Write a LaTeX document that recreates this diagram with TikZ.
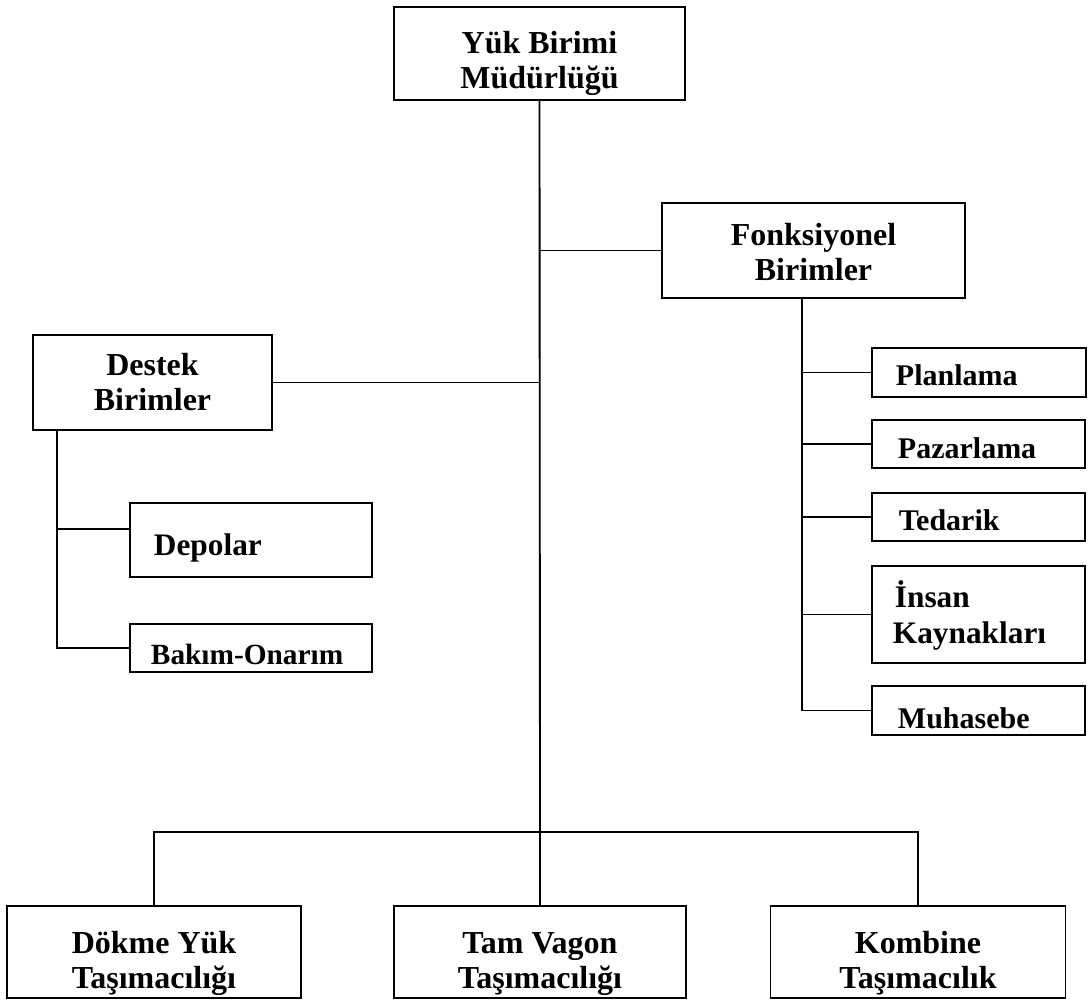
\documentclass[tikz,border=0pt]{standalone}
\usepackage{fontspec}
\setmainfont{Liberation Serif}
\usetikzlibrary{calc}
\newdimen\pxu
\pxu=0.75pt
\begin{document}
\begin{tikzpicture}[x=0.75pt, y=-0.75pt,
  line width=1.4pt,
  box/.style={draw, rectangle, inner sep=0pt, line width=1.4pt},
  link/.style={line width=1.4pt},
  txt/.style={inner sep=0pt, anchor=base, font=\bfseries\fontsize{24}{28}\selectfont},
  stxt/.style={inner sep=0pt, anchor=base west, font=\bfseries\fontsize{22.5}{26}\selectfont}]
\useasboundingbox (0,0) rectangle (1092,1001);

% boxes: centre, width, height (in px)
\node[box, minimum width=291\pxu, minimum height=93\pxu] (mud) at (539.5,53.5) {};
\node[box, minimum width=303\pxu, minimum height=95\pxu] (fonk) at (813.5,250.5) {};
\node[box, minimum width=239\pxu, minimum height=95\pxu] (destek) at (152.5,382.5) {};
\node[box, minimum width=242\pxu, minimum height=74\pxu] (depolar) at (251,540) {};
\node[box, minimum width=242\pxu, minimum height=48\pxu] (bakim) at (251,648) {};
\node[box, minimum width=214\pxu, minimum height=49\pxu] (plan) at (979,372.5) {};
\node[box, minimum width=213\pxu, minimum height=48\pxu] (paz) at (978.5,444) {};
\node[box, minimum width=213\pxu, minimum height=48\pxu] (ted) at (978.5,517) {};
\node[box, minimum width=213\pxu, minimum height=97\pxu] (insan) at (978.5,614.5) {};
\node[box, minimum width=213\pxu, minimum height=49\pxu] (muh) at (978.5,710.5) {};
\node[box, minimum width=294\pxu, minimum height=92\pxu] (dokme) at (154,952) {};
\node[box, minimum width=292\pxu, minimum height=92\pxu] (tam) at (540,952) {};
\node[box, minimum width=295\pxu, minimum height=92\pxu] (kombine) at (918,952) {};

% texts
\node[txt] (mudA) at (mud.center |- 0,53) {Yük Birimi};
\node[txt] (mudB) at (mud.center |- 0,88) {Müdürlüğü};
\node[txt] (fonkA) at (fonk.center |- 0,245) {Fonksiyonel};
\node[txt] (fonkB) at (fonk.center |- 0,280) {Birimler};
\node[txt] (destekA) at (destek.center |- 0,375) {Destek};
\node[txt] (destekB) at (destek.center |- 0,410) {Birimler};
\node[stxt, font=\bfseries\fontsize{23.5}{26}\selectfont] (depolarT) at (153,555) {Depolar};
\node[stxt, font=\bfseries\fontsize{22}{26}\selectfont] (bakimT) at (150,664) {Bakım-Onarım};
\node[stxt] (planT) at (895,385) {Planlama};
\node[stxt] (pazT) at (897,458) {Pazarlama};
\node[stxt] (tedT) at (898,530) {Tedarik};
\node[stxt, font=\bfseries\fontsize{23.5}{26}\selectfont] (insanA) at (894,607) {İnsan};
\node[stxt, font=\bfseries\fontsize{23.5}{26}\selectfont] (insanB) at (892,643) {Kaynakları};
\node[stxt] (muhT) at (897,728) {Muhasebe};
\node[txt] (dokmeA) at (dokme.center |- 0,953) {Dökme Yük};
\node[txt] (dokmeB) at (dokme.center |- 0,988) {Taşımacılığı};
\node[txt] (tamA) at (tam.center |- 0,953) {Tam Vagon};
\node[txt] (tamB) at (tam.center |- 0,988) {Taşımacılığı};
\node[txt] (kombineA) at (kombine.center |- 0,953) {Kombine};
\node[txt] (kombineB) at (kombine.center |- 0,988) {Taşımacılık};

% trunk and branches
\coordinate (trunk) at (540,832);
\draw[link] (mud.south) -- (trunk);
\draw[link] (mud.south |- fonk.west) -- (fonk.west);
\draw[link] (destek.east) -- (mud.south |- destek.east);

% support units
\coordinate (dstem) at (57,430);
\draw[link] (dstem) |- (bakim.west);
\draw[link] ([yshift=8.25pt]depolar.west -| dstem) -- ([yshift=8.25pt]depolar.west);

% functional units
\coordinate (fstem) at (802,298);
\draw[link] (fstem) |- (muh.west);
\draw[link] (fstem |- plan.west) -- (plan.west);
\draw[link] (fstem |- paz.west) -- (paz.west);
\draw[link] (fstem |- ted.west) -- (ted.west);
\draw[link] (fstem |- insan.west) -- (insan.west);

% transport units
\draw[link] (dokme.north) -- (dokme.north |- trunk) -- (kombine.north |- trunk) -- (kombine.north);
\draw[link] (trunk) -- (tam.north);
\end{tikzpicture}
\end{document}
